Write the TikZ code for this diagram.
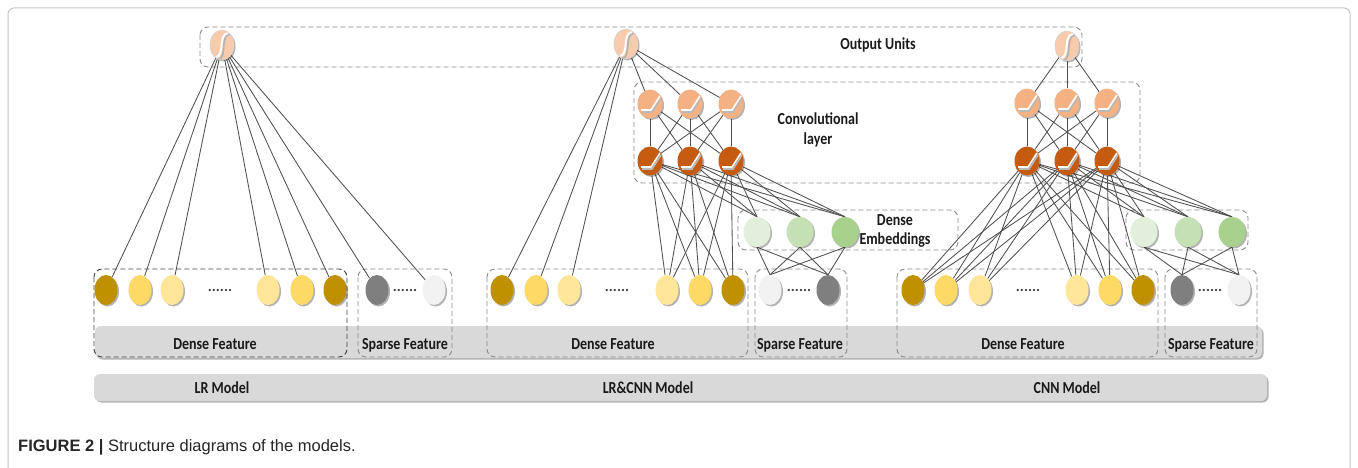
\documentclass[tikz,border=0pt]{standalone}
\usepackage{fontspec}
\setmainfont{Carlito}
\newfontfamily\capfont{Liberation Sans}
\usetikzlibrary{shapes.geometric,shadows,calc}
\pgfdeclarelayer{bg}
\pgfsetlayers{bg,main}
\definecolor{outc}{HTML}{F8CBAD}
\definecolor{ctop}{HTML}{F4B183}
\definecolor{cbot}{HTML}{C55A11}
\definecolor{emba}{HTML}{E2EFDA}
\definecolor{embb}{HTML}{C5E0B4}
\definecolor{embc}{HTML}{A9D18E}
\definecolor{fdark}{HTML}{BF9000}
\definecolor{fmid}{HTML}{FFD966}
\definecolor{flight}{HTML}{FFE699}
\definecolor{sdark}{HTML}{7F7F7F}
\definecolor{slight}{HTML}{F2F2F2}
\definecolor{barc}{HTML}{D9D9D9}
\definecolor{edgec}{HTML}{505050}
\definecolor{boxc}{HTML}{8C8C8C}
\definecolor{txtc}{HTML}{1A1A1A}
\newcommand{\tallt}[1]{\scalebox{1}[1.2]{#1}}
\begin{document}
\begin{tikzpicture}[x=1pt,y=-1pt,
  shad/.style={drop shadow={shadow xshift=1.5pt,shadow yshift=-1.5pt,opacity=0.3,fill=black}},
  unit/.style={ellipse,inner sep=0pt,draw=none,shad},
  feat/.style={unit,minimum width=23pt,minimum height=30pt},
  emb/.style={unit,minimum width=27pt,minimum height=30pt},
  sigm/.style={unit,minimum width=24pt,minimum height=30pt,fill=outc,draw=gray!35,line width=0.6pt,
    path picture={
      \draw[gray!60,line width=1.6pt] ([shift={(-3,14)}]path picture bounding box.center) .. controls ([shift={(5,13)}]path picture bounding box.center) and ([shift={(-2,-10)}]path picture bounding box.center) .. ([shift={(8,-11)}]path picture bounding box.center);
      \draw[white,line width=2pt] ([shift={(-6,12)}]path picture bounding box.center) .. controls ([shift={(3,11)}]path picture bounding box.center) and ([shift={(-4,-11)}]path picture bounding box.center) .. ([shift={(6,-12)}]path picture bounding box.center);
    }},
  relu/.style={unit,minimum width=25pt,minimum height=29pt,
    path picture={
      \draw[gray!55,line width=1.6pt] ([shift={(-8,8)}]path picture bounding box.center) -- ([shift={(2,8)}]path picture bounding box.center) -- ([shift={(11,-6)}]path picture bounding box.center);
      \draw[white,line width=1.6pt] ([shift={(-9,6)}]path picture bounding box.center) -- ([shift={(1,6)}]path picture bounding box.center) -- ([shift={(10,-8)}]path picture bounding box.center);
    }},
  ctopn/.style={relu,fill=ctop},
  cbotn/.style={relu,fill=cbot},
  edge/.style={draw=edgec,line width=0.85pt},
  dbox/.style={draw=boxc,dash pattern=on 5pt off 3pt,rounded corners=8pt,line width=0.9pt},
  lbl/.style={font=\fontsize{14}{16}\selectfont\bfseries,text=txtc,inner sep=0pt},
  dots/.style={font=\fontsize{15}{16}\selectfont\bfseries,text=txtc!85,inner sep=0pt},
  bar/.style={fill=barc,rounded corners=6pt,shad}
]
\useasboundingbox (0,0) rectangle (1358,468);

% ---------- output units
\node[sigm] (oA) at (222,45) {};
\node[sigm] (oB) at (626,44) {};
\node[sigm] (oC) at (1067,46) {};
\node[lbl] (tOut) at (878,45) {\tallt{Output Units}};

% ---------- conv layers
\foreach \n/\x in {1/650,2/690,3/731}{
  \node[ctopn] (cBt\n) at (\x,104) {};
  \node[cbotn] (cBb\n) at (\x,161) {};
}
\foreach \n/\x in {1/1027,2/1067,3/1107}{
  \node[ctopn] (cCt\n) at (\x,103) {};
  \node[cbotn] (cCb\n) at (\x,161) {};
}
\node[lbl,align=center] (tConv) at (818,130) {\tallt{Convolutional}\\[4pt]\tallt{layer}};

% ---------- embeddings
\foreach \n/\x/\c in {1/757/emba,2/800/embb,3/845/embc}
  \node[emb,fill=\c] (eB\n) at (\x,232) {};
\foreach \n/\x/\c in {1/1144/emba,2/1188/embb,3/1232/embc}
  \node[emb,fill=\c] (eC\n) at (\x,232) {};
\node[lbl,align=center] (tEmb) at (895,231) {\tallt{Dense}\\[3pt]\tallt{Embeddings}};

% ---------- features
\foreach \n/\x/\c in {1/106/fdark,2/140/fmid,3/172/flight,4/268/flight,5/302/fmid,6/335/fdark}
  \node[feat,fill=\c] (fA\n) at (\x,290) {};
\foreach \n/\x/\c in {1/502/fdark,2/536/fmid,3/569/flight,4/667/flight,5/700/fmid,6/733/fdark}
  \node[feat,fill=\c] (fB\n) at (\x,290) {};
\foreach \n/\x/\c in {1/913/fdark,2/946/fmid,3/980/flight,4/1077/flight,5/1110/fmid,6/1143/fdark}
  \node[feat,fill=\c] (fC\n) at (\x,290) {};
\node[feat,fill=sdark] (sA1) at (377,290) {};
\node[feat,fill=slight] (sA2) at (434,290) {};
\node[feat,fill=slight] (sB1) at (770,290) {};
\node[feat,fill=sdark] (sB2) at (828,290) {};
\node[feat,fill=sdark] (sC1) at (1182,290) {};
\node[feat,fill=slight] (sC2) at (1239,290) {};
\node[dots] (dA) at (220,290) {......};
\node[dots] (dsA) at (405,290) {......};
\node[dots] (dB) at (617,290) {......};
\node[dots] (dsB) at (799,290) {......};
\node[dots] (dC) at (1028,290) {......};
\node[dots] (dsC) at (1210,290) {......};

% ---------- labels
\node[lbl] (tdA) at (215,344) {\tallt{Dense Feature}};
\node[lbl] (tdB) at (613,344) {\tallt{Dense Feature}};
\node[lbl] (tdC) at (1023,344) {\tallt{Dense Feature}};
\node[lbl] (tsA) at (405,345) {\tallt{Sparse Feature}};
\node[lbl] (tsB) at (800,345) {\tallt{Sparse Feature}};
\node[lbl] (tsC) at (1211,345) {\tallt{Sparse Feature}};
\node[lbl] (mA) at (222,388) {\tallt{LR Model}};
\node[lbl] (mB) at (648,388) {\tallt{LR\&CNN Model}};
\node[lbl] (mC) at (1067,388) {\tallt{CNN Model}};

% ---------- caption
\node[anchor=west,inner sep=0pt,font=\capfont\fontsize{16.5}{18}\selectfont,text=black!85] (cap) at (18,447)
  {\textbf{FIGURE 2 |} Structure diagrams of the models.};

\begin{pgfonlayer}{bg}
  \fill[white] (0,0) rectangle (1358,468);
  \draw[gray!45,line width=1pt,rounded corners=6pt] (8,480) -- (8,8) -- (1350,8) -- (1350,480);
  % bars
  \fill[bar] (95,326) rectangle (1262,358);
  \fill[bar] (94,374) rectangle (1267,401);
  % dashed boxes
  \draw[dbox] (200,27) rectangle (1082,67);
  \draw[dbox] (634,82) rectangle (1140,183);
  \draw[dbox] (738,210) rectangle (958,250);
  \draw[dbox] (1126,210) rectangle (1248,250);
  \draw[dbox,draw=black!75] (94,269) rectangle (347,357);
  \draw[dbox] (358,269) rectangle (452,357);
  \draw[dbox] (487,269) rectangle (748,357);
  \draw[dbox] (755,269) rectangle (847,357);
  \draw[dbox] (897,269) rectangle (1158,357);
  \draw[dbox] (1165,269) rectangle (1257,357);
  % edges: LR model
  \foreach \i in {1,...,6} \draw[edge] (oA) -- (fA\i);
  \draw[edge] (oA) -- (sA1);
  \draw[edge] (oA) -- (sA2);
  % edges: LR&CNN model
  \foreach \i in {1,2,3} {
    \draw[edge] (oB) -- (fB\i);
    \draw[edge] (oB) -- (cBt\i);
  }
  \foreach \i in {1,2,3} {
    \foreach \j in {1,2,3} \draw[edge] (cBt\i) -- (cBb\j);
    \draw[edge] (eB\i.south) -- (sB1.north);
    \draw[edge] (eB\i.south) -- (sB2.north);
    \foreach \j in {4,5,6} \draw[edge] (cBb\i) -- (fB\j);
    \foreach \j in {1,2,3} \draw[edge] (cBb\i) -- (eB\j.north);
  }
  % edges: CNN model
  \foreach \i in {1,2,3} {
    \draw[edge] (oC) -- (cCt\i);
    \foreach \j in {1,2,3} \draw[edge] (cCt\i) -- (cCb\j);
    \foreach \j in {1,...,6} \draw[edge] (cCb\i) -- (fC\j);
    \foreach \j in {1,2,3} \draw[edge] (cCb\i) -- (eC\j.north);
    \draw[edge] (eC\i.south) -- (sC1.north);
    \draw[edge] (eC\i.south) -- (sC2.north);
  }
\end{pgfonlayer}
\end{tikzpicture}
\end{document}
